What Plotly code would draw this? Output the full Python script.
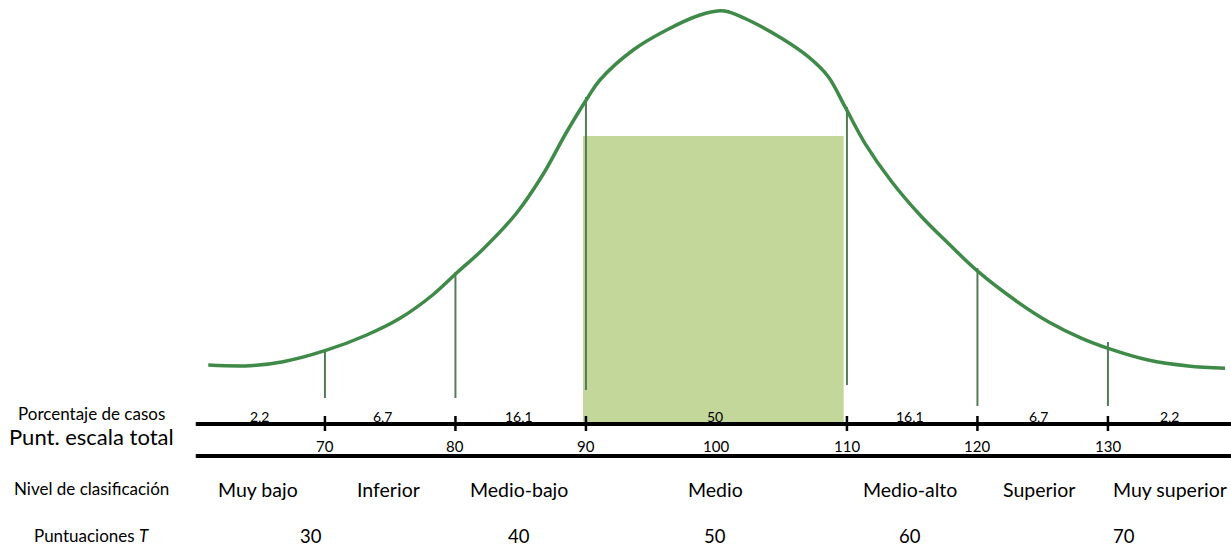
import plotly.graph_objects as go

# ---- data ----
curve_x = [61.06, 64.25, 66.80, 70.00, 73.20, 75.75, 78.30, 80.09, 82.13, 84.69, 86.73,
           88.52, 90.18, 91.07, 93.62, 96.18, 98.74, 100.27, 100.90, 102.44, 104.99,
           107.03, 108.57, 109.85, 111.38, 113.43, 115.72, 117.76, 120.06, 122.87,
           125.43, 127.99, 130.02, 133.09, 136.15, 138.97]
curve_h = [59, 58.3, 62.3, 73.3, 89, 105.7, 129.5, 151, 175, 211, 250,
           292, 327.3, 344, 374, 394, 409, 413.3, 412.3, 404, 385.7,
           367.3, 347.3, 317.3, 280.7, 242.3, 207.3, 180.7, 152.3, 124,
           102.3, 85.7, 75.7, 64, 58, 55.7]

cut_scores = [70, 80, 90, 110, 120, 130]
cut_top = [72, 152, 327, 317, 156, 82]
cut_bottom = [26, 26, 34, 39, 18, 18]

score_ticks = [70, 80, 90, 100, 110, 120, 130]
percent_labels = ["2,2", "6,7", "16,1", "50", "16,1", "6,7", "2,2"]
level_labels = ["Muy bajo", "Inferior", "Medio-bajo", "Medio", "Medio-alto", "Superior", "Muy superior"]
t_scores = [30, 40, 50, 60, 70]

mid_lo, mid_hi, mid_height = 89.77, 109.75, 288

row_titles = ["Porcentaje de casos", "Punt. escala total", "Nivel de clasificación", "Puntuaciones <i>T</i>"]

# ---- label placement (x in score units) ----
percent_pos = [65.0, 74.4, 84.9, 99.9, 114.8, 124.7, 134.7]
level_pos = [64.9, 74.9, 84.9, 99.9, 114.8, 124.7, 134.75]
t_pos = [68.9, 84.9, 99.9, 114.8, 131.2]

# ---- styles ----
FONT = "Lato"
CURVE_COLOR = "#3f8a48"
CUT_COLOR = "#557a58"
FILL_COLOR = "#c4d79b"

fig = go.Figure()

# shaded central area
fig.add_shape(type="rect", x0=mid_lo, x1=mid_hi, y0=0, y1=mid_height,
              fillcolor=FILL_COLOR, line_width=0, layer="below")

# vertical cut lines
for xs, top, bot in zip(cut_scores, cut_top, cut_bottom):
    fig.add_trace(go.Scatter(x=[xs, xs], y=[bot, top], mode="lines",
                             line=dict(color=CUT_COLOR, width=2), hoverinfo="skip", showlegend=False))

# curve
fig.add_trace(go.Scatter(x=curve_x, y=curve_h, mode="lines", line_shape="spline",
                         line=dict(color=CURVE_COLOR, width=3.5), hoverinfo="skip", showlegend=False))

# horizontal scale lines
x_left = 60.1
x_right = 140
fig.add_shape(type="line", x0=x_left, x1=x_right, y0=0, y1=0, line=dict(color="black", width=4))
fig.add_shape(type="line", x0=x_left, x1=x_right, y0=-32, y1=-32, line=dict(color="black", width=4))
for xs in cut_scores:
    fig.add_shape(type="line", x0=xs, x1=xs, y0=8, y1=-7, line=dict(color="black", width=2.5))

annotations = []
for m, lab in zip(percent_pos, percent_labels):
    annotations.append(dict(x=m, y=7.8, text=lab, showarrow=False,
                            font=dict(size=14, family=FONT, color="black")))
for s in score_ticks:
    annotations.append(dict(x=s, y=-22.3, text=str(s), showarrow=False,
                            font=dict(size=15, family=FONT, color="black")))
for m, lab in zip(level_pos, level_labels):
    annotations.append(dict(x=m, y=-65.6, text=lab, showarrow=False,
                            font=dict(size=19.5, family=FONT, color="black")))
for m, t in zip(t_pos, t_scores):
    annotations.append(dict(x=m, y=-111.5, text=str(t), showarrow=False,
                            font=dict(size=18.5, family=FONT, color="black")))

title_y = [10.5, -12.6, -64.5, -111]
title_size = [17, 22, 17, 17]
for txt, yy, sz in zip(row_titles, title_y, title_size):
    annotations.append(dict(x=91 / 1231, xref="paper", xanchor="center", y=yy, text=txt, showarrow=False,
                            font=dict(size=sz, family=FONT, color="black")))

fig.update_layout(
    width=1231, height=547,
    margin=dict(l=0, r=0, t=0, b=0),
    paper_bgcolor="white", plot_bgcolor="white",
    xaxis=dict(range=[45.10, 139.43], visible=False, fixedrange=True),
    yaxis=dict(range=[-123, 424], visible=False, fixedrange=True),
    annotations=annotations,
    showlegend=False,
)

fig.write_html("out.html", config={"displayModeBar": False},
               post_script="document.body.style.margin='0';document.body.style.overflow='hidden';")
